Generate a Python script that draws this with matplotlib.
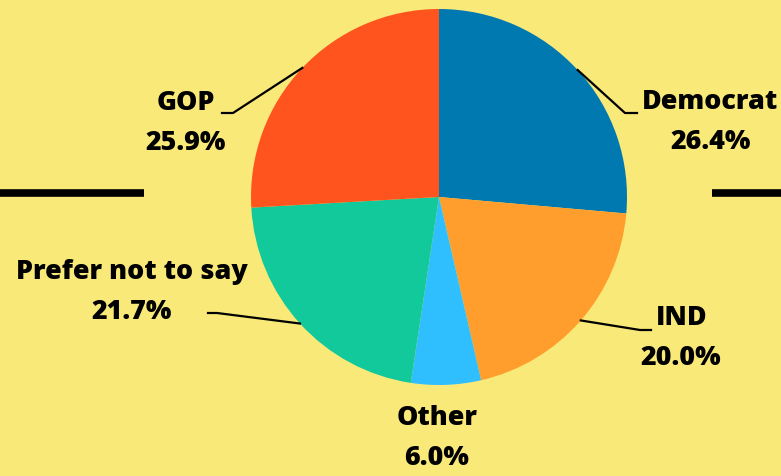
import numpy as np
import matplotlib
matplotlib.use('Agg')
import matplotlib.pyplot as plt

W, H = 781, 476

labels = ['Democrat', 'IND', 'Other', 'Prefer not to say', 'GOP']
values = [26.4, 20.0, 6.0, 21.7, 25.9]
colors = ['#0079b0', '#ff9e2c', '#2fbfff', '#11c99a', '#ff541e']
bg = '#f9e979'

# text anchor (pixel coords, y from top), leader elbow and end
text_pos = {
    'Democrat': (642, 'left', 102, 711),
    'IND': (682, 'center', 318, 681),
    'Other': (437, 'center', 418, 437),
    'Prefer not to say': (132, 'center', 272, 132),
    'GOP': (186, 'center', 103, 186),
}
leaders = {
    'Democrat': [(625, 113), (637, 113)],
    'IND': [(640, 330), (651, 330)],
    'Prefer not to say': [(217, 313), (208, 313)],
    'GOP': [(233, 113), (222, 113)],
}

cx, cy, r = 439, 197, 188


def py(y):
    return H - y


fig = plt.figure(figsize=(W / 100, H / 100), dpi=100)
fig.patch.set_facecolor(bg)
ax = fig.add_axes([0, 0, 1, 1])
ax.set_facecolor(bg)

ax.pie(values, colors=colors, startangle=90, counterclock=False,
       center=(cx, py(cy)), radius=r, frame=True,
       wedgeprops=dict(linewidth=0))

ax.set_xlim(0, W)
ax.set_ylim(0, H)
ax.set_aspect('equal')
ax.axis('off')

# side bars
ax.plot([0, 144], [py(193), py(193)], color='black', lw=5.5, solid_capstyle='butt')
ax.plot([712, W], [py(193), py(193)], color='black', lw=5.5, solid_capstyle='butt')

font = dict(family=['Open Sans', 'DejaVu Sans'], weight='heavy', fontsize=19.4, color='black')

total = sum(values)
start = 90.0
for lab, val in zip(labels, values):
    span = 360 * val / total
    mid = np.deg2rad(start - span / 2)
    start -= span
    x0 = cx + r * np.cos(mid)
    y0 = cy - r * np.sin(mid)
    if lab in leaders:
        pts = [(x0, y0)] + leaders[lab]
        ax.plot([p[0] for p in pts], [py(p[1]) for p in pts], color='black', lw=1.6)
    tx, ha, ty, px = text_pos[lab]
    ax.text(tx, py(ty), lab, ha=ha, va='center', **font)
    ax.text(px, py(ty + 40), f'{val:.1f}%', ha='center', va='center', **font)

fig.savefig('out.png', dpi=100, facecolor=bg)
